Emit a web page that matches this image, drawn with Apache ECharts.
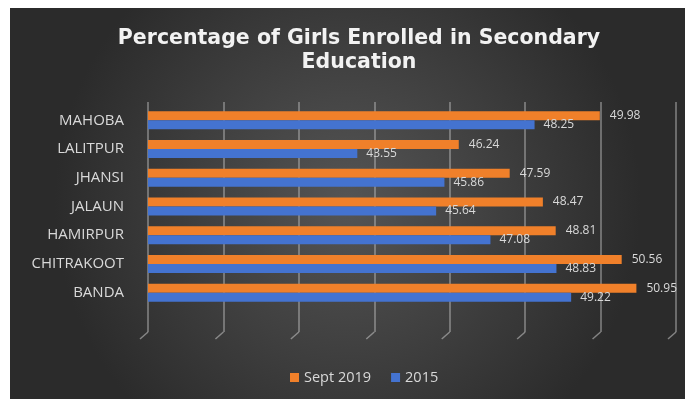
<!DOCTYPE html>
<html>
<head>
<meta charset="utf-8">
<script src="https://cdn.jsdelivr.net/npm/echarts@6/dist/echarts.min.js"></script>
<style>
html,body{margin:0;padding:0;background:#fff;width:687px;height:399px;overflow:hidden;}
#c{position:absolute;left:10px;top:8px;width:675px;height:391px;}
</style>
</head>
<body>
<div id="c"></div>
<script>
const categories = ['BANDA','CHITRAKOOT','HAMIRPUR','JALAUN','JHANSI','LALITPUR','MAHOBA'];
const sept2019 = [50.95, 50.56, 48.81, 48.47, 47.59, 46.24, 49.98];
const y2015 = [49.22, 48.83, 47.08, 45.64, 45.86, 43.55, 48.25];
const xTicks = [38, 40, 42, 44, 46, 48, 50, 52];

const chart = echarts.init(document.getElementById('c'));
const gridColor = 'rgba(190,190,190,0.6)';
const labelColor = '#d9d9d9';
const font = '"Open Sans", "DejaVu Sans", sans-serif';

chart.setOption({
  backgroundColor: {
    type: 'radial', x: 0.5, y: 0.5, r: 0.75,
    colorStops: [{offset: 0, color: '#555555'}, {offset: 1, color: '#2b2b2b'}]
  },
  animation: false,
  title: {
    text: 'Percentage of Girls Enrolled in Secondary\nEducation',
    left: 349, top: 19, padding: 0, textAlign: 'center',
    textStyle: {color: '#f2f2f2', fontSize: 20.5, fontWeight: 'bold', fontFamily: '"DejaVu Sans", sans-serif', lineHeight: 24}
  },
  legend: {
    data: ['Sept 2019', '2015'],
    left: 280, bottom: 14, padding: 0,
    icon: 'rect', itemWidth: 9, itemHeight: 9, itemGap: 20,
    textStyle: {color: labelColor, fontSize: 14.5, fontFamily: font}
  },
  grid: [
    {left: 138, right: 9, top: 98, height: 201, containLabel: false},
    {left: 138, right: 9, top: 94, bottom: 67, containLabel: false}
  ],
  xAxis: [
    {gridIndex: 0, type: 'value', min: 38, max: 52, interval: 2, show: false},
    {gridIndex: 1, type: 'value', min: 38, max: 52, interval: 2,
     axisLine: {show: false}, axisTick: {show: false}, axisLabel: {show: false},
     splitLine: {show: true, lineStyle: {color: gridColor, width: 1.5}}}
  ],
  yAxis: [
    {gridIndex: 0, type: 'category', data: categories,
     axisLine: {show: false}, axisTick: {show: false},
     axisLabel: {color: labelColor, fontSize: 15, fontFamily: font, margin: 24}},
    {gridIndex: 1, type: 'value', min: 0, max: 1, show: false}
  ],
  series: [
    {name: 'Sept 2019', type: 'bar', xAxisIndex: 0, yAxisIndex: 0, data: sept2019,
     barWidth: 9, barGap: '0%', itemStyle: {color: '#f0802a'},
     label: {show: true, position: 'right', distance: 10, color: labelColor, fontSize: 12, fontFamily: font}},
    {name: '2015', type: 'bar', xAxisIndex: 0, yAxisIndex: 0, data: y2015,
     barWidth: 9, barGap: '0%', itemStyle: {color: '#4473d0'},
     label: {show: true, position: 'right', distance: 9, color: labelColor, fontSize: 12, fontFamily: font}},
    {type: 'custom', xAxisIndex: 1, yAxisIndex: 1, silent: true, z: 1,
     data: xTicks,
     renderItem: function (params, api) {
       const p = api.coord([api.value(0), 0]);
       return {type: 'line', shape: {x1: p[0], y1: p[1], x2: p[0] - 8, y2: p[1] + 7},
               style: {stroke: gridColor, lineWidth: 1.5}};
     }}
  ]
});
</script>
</body>
</html>
